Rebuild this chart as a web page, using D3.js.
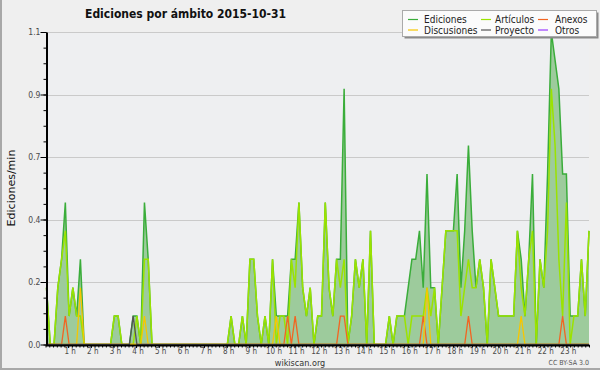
<!DOCTYPE html>
<html>
<head>
<meta charset="utf-8">
<script src="https://cdn.jsdelivr.net/npm/d3@7"></script>
<style>
  body { margin: 0; background: #efefef; }
  svg { display: block; }
  text { font-family: "DejaVu Sans Condensed", "DejaVu Sans", sans-serif; }
</style>
</head>
<body>
<div id="chart"></div>
<script>
// Chart constants
const WIDTH = 600;
const HEIGHT = 370;
const PLOT = { left: 46.5, right: 589, top: 32, bottom: 344.5 };

// Edits per minute, 10 minute buckets (0h00 .. 24h00)
const ediciones = [
  0.2,0,0,0.2,0.3,0.5,0.1,0.2,0.1,0.3,
  0,0,0,0,0,0,0,0,0.1,0.1,
  0,0,0,0.1,0.1,0,0.5,0.3,0,0,
  0,0,0,0,0,0,0,0,0,0,
  0,0,0,0,0,0,0,0,0,0.1,
  0,0,0.1,0,0.3,0.3,0.1,0,0.1,0,
  0.3,0.1,0.1,0.1,0.1,0.3,0.3,0.5,0.2,0.1,
  0.2,0,0.1,0.1,0.5,0.2,0.1,0.3,0.3,0.9,
  0,0.1,0.3,0.2,0.3,0,0.4,0,0,0,
  0,0.1,0,0.1,0.1,0.1,0.2,0.3,0.3,0.4,
  0.2,0.6,0.2,0.2,0,0.2,0.4,0.4,0.4,0.6,
  0.2,0.4,0.7,0.4,0.2,0.3,0.2,0,0.3,0.2,
  0.1,0.1,0.1,0.1,0.1,0.4,0.3,0.1,0.3,0.6,
  0,0.3,0.2,0.6,1.1,1.0,0.9,0.6,0.6,0.1,
  0.1,0.1,0.3,0.1,0.4
];

const articulos = [
  0.2,0,0,0.2,0.3,0.4,0.1,0.2,0.1,0.1,
  0,0,0,0,0,0,0,0,0.1,0.1,
  0,0,0,0,0.1,0,0.3,0.3,0,0,
  0,0,0,0,0,0,0,0,0,0,
  0,0,0,0,0,0,0,0,0,0.1,
  0,0,0.1,0,0.3,0.3,0.1,0,0.1,0,
  0.3,0,0.1,0.1,0,0.3,0.2,0.5,0.2,0.1,
  0.2,0,0.1,0.1,0.5,0.2,0.1,0.3,0.2,0.3,
  0,0.1,0.3,0.2,0.3,0,0.4,0,0,0,
  0,0.1,0,0.1,0.1,0.1,0,0.1,0.1,0.1,
  0.1,0.2,0.1,0.2,0,0.2,0.4,0.4,0.4,0.4,
  0.1,0.2,0.3,0.2,0.2,0.3,0.2,0,0.3,0.2,
  0.1,0.1,0.1,0.1,0.1,0.4,0.2,0.1,0.3,0.4,
  0,0.3,0.2,0.4,0.9,0.7,0.3,0.1,0.5,0,
  0.1,0.1,0.3,0.1,0.4
];

const anexos = [
  0,0,0,0,0,0.1,0,0,0,0,
  0,0,0,0,0,0,0,0,0,0,
  0,0,0,0,0,0,0,0,0,0,
  0,0,0,0,0,0,0,0,0,0,
  0,0,0,0,0,0,0,0,0,0,
  0,0,0,0,0,0,0,0,0,0,
  0,0,0,0,0.1,0,0.1,0,0,0,
  0,0,0,0,0,0,0,0,0.1,0.1,
  0,0,0,0,0,0,0,0,0,0,
  0,0,0,0,0,0,0,0,0,0,
  0.1,0,0,0,0,0,0,0,0,0,
  0,0,0.1,0,0,0,0,0,0,0,
  0,0,0,0,0,0,0,0,0,0,
  0,0,0,0,0,0,0,0.1,0,0,
  0,0,0,0,0
];

const discusiones = [
  0,0,0,0,0,0,0,0,0,0.2,
  0,0,0,0,0,0,0,0,0,0,
  0,0,0,0,0,0,0.1,0,0,0,
  0,0,0,0,0,0,0,0,0,0,
  0,0,0,0,0,0,0,0,0,0,
  0,0,0,0,0,0,0,0,0,0,
  0,0.1,0,0,0,0,0,0,0,0,
  0,0,0,0,0,0,0,0,0,0,
  0,0,0,0,0,0,0,0,0,0,
  0,0,0,0,0,0,0,0,0,0,
  0,0.2,0,0,0,0,0,0,0,0,
  0,0,0,0,0,0,0,0,0,0,
  0,0,0,0,0,0,0.1,0,0,0,
  0,0,0,0,0,0,0,0,0,0,
  0,0,0,0,0
];

const proyecto = [
  0,0,0,0,0,0,0,0,0,0,
  0,0,0,0,0,0,0,0,0,0,
  0,0,0,0.1,0,0,0,0,0,0,
  0,0,0,0,0,0,0,0,0,0,
  0,0,0,0,0,0,0,0,0,0,
  0,0,0,0,0,0,0,0,0,0,
  0,0,0,0,0,0,0,0,0,0,
  0,0,0,0,0,0,0,0,0,0,
  0,0,0,0,0,0,0,0,0,0,
  0,0,0,0,0,0,0,0,0,0,
  0,0,0,0,0,0,0,0,0,0,
  0,0,0,0,0,0,0,0,0,0,
  0,0,0,0,0,0,0,0,0,0,
  0,0,0,0,0,0,0,0,0,0,
  0,0,0,0,0
];

// Tick labels
const yTickValues = [0, 0.22, 0.44, 0.66, 0.88, 1.1];
const yTickLabels = ['0.0', '0.2', '0.4', '0.7', '0.9', '1.1'];
const hourLabels = ['1 h','2 h','3 h','4 h','5 h','6 h','7 h','8 h','9 h','10 h','11 h','12 h',
  '13 h','14 h','15 h','16 h','17 h','18 h','19 h','20 h','21 h','22 h','23 h'];

// Legend
const legendNames = ['Ediciones', 'Artículos', 'Anexos', 'Discusiones', 'Proyecto', 'Otros'];
const legendColors = ['#3aad3a', '#9be300', '#f26522', '#f7c600', '#555555', '#9b3dff'];

let svg, xIdx, xTime, y;

setup();

function setup () {
  svg = d3.select('#chart')
    .append('svg')
    .attr('width', WIDTH)
    .attr('height', HEIGHT);

  svg.append('rect')
    .attr('width', WIDTH)
    .attr('height', HEIGHT)
    .attr('fill', '#efefef');

  // frame on left and bottom
  svg.append('path')
    .attr('d', `M1,0V${HEIGHT - 1}H${WIDTH}`)
    .attr('fill', 'none')
    .attr('stroke', '#a8a8a8')
    .attr('stroke-width', 2);

  // scales
  xIdx = d3.scaleLinear().domain([0, ediciones.length - 1]).range([PLOT.left, PLOT.right]);
  xTime = d3.scaleLinear().domain([0, 24]).range([45.5, 589]);
  y = d3.scaleLinear().domain([0, 1.1]).range([PLOT.bottom, PLOT.top]);

  svg.append('rect')
    .attr('x', PLOT.left)
    .attr('y', PLOT.top)
    .attr('width', PLOT.right - PLOT.left)
    .attr('height', PLOT.bottom - PLOT.top)
    .attr('fill', '#eeeff1');

  drawGrid();
  drawSeries();
  drawAxes();
  drawTexts();
  drawLegend();
}

function drawGrid () {
  svg.append('g')
    .selectAll('line')
    .data(yTickValues.slice(1))
    .enter()
    .append('line')
    .attr('x1', PLOT.left)
    .attr('x2', PLOT.right)
    .attr('y1', d => Math.round(y(d)) + 0.5)
    .attr('y2', d => Math.round(y(d)) + 0.5)
    .attr('stroke', '#cacaca')
    .attr('stroke-width', 1);
}

function drawSeries () {
  const area = d3.area()
    .x((d, i) => xIdx(i))
    .y0(y(0))
    .y1(d => y(d));

  const line = d3.line()
    .x((d, i) => xIdx(i))
    .y(d => y(d));

  svg.append('path')
    .datum(ediciones)
    .attr('d', area)
    .attr('fill', '#9dcb9c');

  const series = [ediciones, articulos, anexos, discusiones, proyecto];
  series.forEach((s, k) => {
    svg.append('path')
      .datum(s)
      .attr('d', line)
      .attr('fill', 'none')
      .attr('stroke', legendColors[k])
      .attr('stroke-width', k < 2 ? 1.5 : 1.3)
      .attr('stroke-linejoin', 'miter');
  });
}

function drawAxes () {
  // y minor ticks
  svg.append('g')
    .attr('transform', `translate(${PLOT.left}, 0)`)
    .call(d3.axisLeft(y).tickValues(d3.range(0, 1.1001, 0.055)).tickSize(3).tickFormat(''))
    .call(g => g.select('.domain').remove())
    .selectAll('line').attr('stroke', '#000');

  // y major ticks
  const yAxis = svg.append('g')
    .attr('transform', `translate(${PLOT.left}, 0)`)
    .call(d3.axisLeft(y).tickValues(yTickValues).tickSize(6).tickSizeOuter(0)
      .tickFormat((d, i) => yTickLabels[i]));
  yAxis.select('.domain').attr('stroke', '#000').attr('stroke-width', 2);
  yAxis.selectAll('text')
    .attr('font-size', 8.5)
    .attr('fill', '#4a4a4a')
    .attr('x', -6)
    .attr('dy', '0.35em')
    .style('font-family', '"DejaVu Sans Condensed", "DejaVu Sans", sans-serif');

  // x minor ticks
  svg.append('g')
    .attr('transform', `translate(0, ${PLOT.bottom + 0.5})`)
    .call(d3.axisBottom(xTime).tickValues(d3.range(0, 24.001, 1 / 6)).tickSize(2.5).tickFormat(''))
    .call(g => g.select('.domain').remove())
    .selectAll('line').attr('stroke', '#000');

  // x hour ticks
  const xAxis = svg.append('g')
    .attr('transform', `translate(0, ${PLOT.bottom + 0.5})`)
    .call(d3.axisBottom(xTime).tickValues(d3.range(1, 24)).tickSize(3).tickSizeOuter(0)
      .tickFormat((d, i) => hourLabels[i]));
  xAxis.select('.domain').attr('stroke', '#000').attr('stroke-width', 2);
  xAxis.selectAll('text')
    .attr('font-size', 8)
    .attr('fill', '#4a4a4a')
    .attr('x', 1.5)
    .attr('y', 3.3)
    .style('font-family', '"DejaVu Sans Condensed", "DejaVu Sans", sans-serif');
}

function drawTexts () {
  svg.append('text')
    .attr('x', 85)
    .attr('y', 18)
    .attr('font-size', 12)
    .attr('font-weight', 'bold')
    .attr('fill', '#111')
    .text('Ediciones por ámbito');

  svg.append('text')
    .attr('x', 217)
    .attr('y', 18)
    .attr('font-size', 12)
    .attr('font-weight', 'bold')
    .attr('fill', '#111')
    .text('2015-10-31');

  svg.append('text')
    .attr('transform', 'translate(14.5, 188) rotate(-90)')
    .attr('text-anchor', 'middle')
    .attr('font-size', 11)
    .attr('fill', '#111')
    .style('font-family', '"DejaVu Sans", sans-serif')
    .text('Ediciones/min');

  svg.append('text')
    .attr('x', 300)
    .attr('y', 365.5)
    .attr('text-anchor', 'middle')
    .attr('font-size', 9)
    .attr('fill', '#333')
    .text('wikiscan.org');

  svg.append('text')
    .attr('x', 589)
    .attr('y', 365)
    .attr('text-anchor', 'end')
    .attr('font-size', 7)
    .attr('fill', '#555')
    .text('CC BY-SA 3.0');
}

function drawLegend () {
  const g = svg.append('g');

  g.append('rect')
    .attr('x', 404.5).attr('y', 12.5)
    .attr('width', 194).attr('height', 26)
    .attr('fill', '#8a8a8a');

  g.append('rect')
    .attr('x', 402.5).attr('y', 10.5)
    .attr('width', 194).attr('height', 26)
    .attr('fill', '#fbfbfb')
    .attr('stroke', '#aaaaaa');

  const colLine = [408, 481, 538];
  const colText = [424, 495, 555];
  const rowY = [19.5, 30];
  // row 1: Ediciones, Artículos, Anexos; row 2: Discusiones, Proyecto, Otros
  const items = g.selectAll('g.item')
    .data(legendNames)
    .enter()
    .append('g')
    .attr('class', 'item')
    .attr('transform', (d, i) => `translate(0, ${rowY[i < 3 ? 0 : 1]})`);

  items.append('line')
    .attr('x1', (d, i) => colLine[i % 3])
    .attr('x2', (d, i) => colLine[i % 3] + 10)
    .attr('stroke', (d, i) => legendColors[i])
    .attr('stroke-width', 1.2);

  items.append('text')
    .attr('x', (d, i) => colText[i % 3])
    .attr('dy', '0.35em')
    .attr('font-size', 10)
    .attr('fill', '#222')
    .text(d => d);
}
</script>
</body>
</html>
